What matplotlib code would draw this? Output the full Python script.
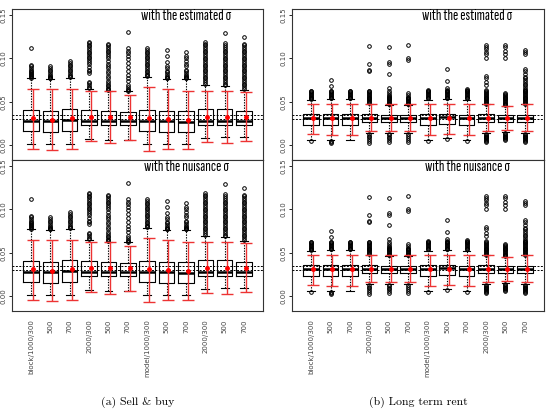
import matplotlib
matplotlib.use("Agg")
import matplotlib.pyplot as plt
from matplotlib import font_manager

# ---------------- data ----------------
tick_labels = ["block/1000/300", "500", "700", "2000/300", "500", "700",
               "model/1000/300", "500", "700", "2000/300", "500", "700"]
row_titles = ["with the estimated \u03c3", "with the nuisance \u03c3"]
captions = ["(a) Sell & buy", "(b) Long term rent"]
ref_lines = [0.0346, 0.0308]

# Sell & buy
sell_q1 = [0.0165, 0.0158, 0.0165, 0.0235, 0.0230, 0.0230, 0.0160, 0.0158, 0.0158, 0.0230, 0.0230, 0.0230]
sell_med = [0.0277, 0.0280, 0.0290, 0.0275, 0.0280, 0.0280, 0.0280, 0.0280, 0.0270, 0.0280, 0.0280, 0.0280]
sell_q3 = [0.0410, 0.0400, 0.0420, 0.0410, 0.0400, 0.0385, 0.0410, 0.0400, 0.0400, 0.0420, 0.0420, 0.0400]
sell_wlo = [0.0020, 0.0010, 0.0020, 0.0070, 0.0065, 0.0065, 0.0010, 0.0010, 0.0010, 0.0085, 0.0100, 0.0096]
sell_whi = [0.0770, 0.0760, 0.0780, 0.0650, 0.0630, 0.0620, 0.0790, 0.0760, 0.0760, 0.0700, 0.0680, 0.0640]
sell_mean = [0.0310, 0.0296, 0.0310, 0.0330, 0.0330, 0.0320, 0.0310, 0.0300, 0.0296, 0.0330, 0.0330, 0.0330]
sell_lo = [-0.0046, -0.0050, -0.0040, 0.0046, 0.0030, 0.0060, -0.0065, -0.0046, -0.0046, 0.0040, 0.0030, 0.0046]
sell_hi = [0.0650, 0.0650, 0.0650, 0.0620, 0.0630, 0.0580, 0.0670, 0.0650, 0.0630, 0.0630, 0.0630, 0.0610]
sell_out = [
    [0.078, 0.079, 0.080, 0.081, 0.082, 0.083, 0.084, 0.085, 0.087, 0.089, 0.091, 0.093, 0.112],
    [0.077, 0.078, 0.079, 0.080, 0.081, 0.083, 0.085, 0.087, 0.089, 0.091],
    [0.079, 0.080, 0.081, 0.083, 0.085, 0.087, 0.089, 0.091, 0.093, 0.095, 0.097],
    [0.066, 0.067, 0.069, 0.072, 0.073, 0.083, 0.085, 0.087, 0.090, 0.094, 0.096, 0.098, 0.100,
     0.102, 0.104, 0.106, 0.108, 0.110, 0.112, 0.114, 0.116, 0.118, 0.119],
    [0.064, 0.065, 0.066, 0.068, 0.070, 0.072, 0.074, 0.077, 0.080, 0.083, 0.086, 0.089, 0.091,
     0.094, 0.097, 0.100, 0.103, 0.105, 0.107, 0.109, 0.111, 0.113, 0.115, 0.117],
    [0.063, 0.064, 0.065, 0.067, 0.070, 0.074, 0.077, 0.081, 0.085, 0.090, 0.095, 0.099, 0.103,
     0.106, 0.109, 0.112, 0.131],
    [0.080, 0.081, 0.082, 0.084, 0.086, 0.088, 0.090, 0.092, 0.094, 0.096, 0.098, 0.100, 0.102,
     0.104, 0.106, 0.108, 0.110, 0.112],
    [0.077, 0.078, 0.079, 0.080, 0.082, 0.084, 0.086, 0.089, 0.091, 0.096, 0.103, 0.110],
    [0.077, 0.078, 0.079, 0.080, 0.081, 0.083, 0.085, 0.087, 0.091, 0.094, 0.097, 0.100, 0.103, 0.107],
    [0.071, 0.073, 0.075, 0.077, 0.079, 0.081, 0.083, 0.085, 0.087, 0.089, 0.091, 0.093, 0.095,
     0.097, 0.099, 0.101, 0.103, 0.105, 0.107, 0.109, 0.111, 0.113, 0.115, 0.117, 0.119],
    [0.069, 0.071, 0.073, 0.075, 0.077, 0.079, 0.081, 0.083, 0.085, 0.087, 0.089, 0.091, 0.093,
     0.095, 0.097, 0.099, 0.101, 0.103, 0.105, 0.107, 0.109, 0.111, 0.113, 0.115, 0.118, 0.129],
    [0.065, 0.067, 0.069, 0.071, 0.073, 0.075, 0.077, 0.079, 0.081, 0.083, 0.085, 0.087, 0.089,
     0.091, 0.093, 0.095, 0.097, 0.099, 0.101, 0.103, 0.105, 0.107, 0.109, 0.111, 0.113, 0.115,
     0.117, 0.125],
]

# Long term rent
rent_q1 = [0.0238, 0.0238, 0.0238, 0.0270, 0.0270, 0.0270, 0.0238, 0.0245, 0.0238, 0.0270, 0.0270, 0.0270]
rent_med = [0.0310, 0.0310, 0.0310, 0.0315, 0.0310, 0.0310, 0.0310, 0.0327, 0.0310, 0.0310, 0.0310, 0.0310]
rent_q3 = [0.0358, 0.0358, 0.0365, 0.0358, 0.0354, 0.0354, 0.0358, 0.0365, 0.0354, 0.0358, 0.0354, 0.0354]
rent_wlo = [0.0065, 0.0060, 0.0065, 0.0145, 0.0145, 0.0145, 0.0065, 0.0080, 0.0065, 0.0145, 0.0155, 0.0145]
rent_whi = [0.0520, 0.0530, 0.0530, 0.0480, 0.0460, 0.0460, 0.0520, 0.0530, 0.0520, 0.0470, 0.0450, 0.0470]
rent_mean = [0.0310, 0.0310, 0.0310, 0.0310, 0.0310, 0.0310, 0.0310, 0.0310, 0.0310, 0.0310, 0.0310, 0.0310]
rent_lo = [0.0127, 0.0120, 0.0120, 0.0160, 0.0160, 0.0160, 0.0120, 0.0130, 0.0120, 0.0160, 0.0180, 0.0160]
rent_hi = [0.0470, 0.0480, 0.0480, 0.0480, 0.0470, 0.0470, 0.0470, 0.0480, 0.0470, 0.0480, 0.0450, 0.0470]
rent_out = [
    [0.053, 0.054, 0.055, 0.056, 0.057, 0.058, 0.059, 0.060, 0.061, 0.062, 0.063, 0.005],
    [0.054, 0.055, 0.056, 0.057, 0.058, 0.059, 0.060, 0.061, 0.062, 0.063, 0.068, 0.075,
     0.003, 0.004, 0.005],
    [0.054, 0.055, 0.056, 0.057, 0.058, 0.059, 0.060, 0.061, 0.062, 0.063],
    [0.049, 0.050, 0.051, 0.052, 0.053, 0.054, 0.055, 0.056, 0.057, 0.058, 0.059, 0.060, 0.061,
     0.062, 0.063, 0.085, 0.087, 0.094, 0.114,
     0.003, 0.005, 0.007, 0.009, 0.011, 0.013],
    [0.047, 0.048, 0.049, 0.050, 0.051, 0.052, 0.053, 0.054, 0.055, 0.056, 0.057, 0.058, 0.060,
     0.062, 0.066, 0.082, 0.094, 0.096, 0.113,
     0.004, 0.006, 0.008, 0.010, 0.012, 0.013],
    [0.047, 0.048, 0.049, 0.050, 0.051, 0.052, 0.053, 0.054, 0.055, 0.056, 0.058, 0.060,
     0.098, 0.101, 0.115,
     0.004, 0.006, 0.008, 0.011, 0.013],
    [0.054, 0.055, 0.056, 0.057, 0.058, 0.059, 0.060, 0.061, 0.062, 0.063, 0.064, 0.005],
    [0.054, 0.055, 0.056, 0.057, 0.058, 0.059, 0.060, 0.061, 0.062, 0.063, 0.064, 0.066,
     0.074, 0.088, 0.007],
    [0.054, 0.055, 0.056, 0.057, 0.058, 0.059, 0.060, 0.061, 0.062, 0.063, 0.064, 0.065, 0.005],
    [0.048, 0.049, 0.050, 0.051, 0.052, 0.053, 0.054, 0.055, 0.056, 0.057, 0.058, 0.059, 0.060,
     0.061, 0.062, 0.064, 0.069, 0.073, 0.077, 0.080, 0.101, 0.105, 0.108, 0.111, 0.113, 0.116,
     0.004, 0.005, 0.006, 0.007, 0.008, 0.009, 0.010, 0.011, 0.012, 0.013],
    [0.046, 0.047, 0.048, 0.049, 0.050, 0.051, 0.052, 0.053, 0.054, 0.055, 0.056, 0.057, 0.058,
     0.059, 0.060, 0.101, 0.105, 0.109, 0.113, 0.116,
     0.006, 0.007, 0.008, 0.009, 0.010, 0.011, 0.012, 0.013, 0.014],
    [0.048, 0.049, 0.050, 0.051, 0.052, 0.053, 0.054, 0.055, 0.056, 0.057, 0.058, 0.059, 0.060,
     0.061, 0.062, 0.063, 0.064, 0.065, 0.067, 0.069, 0.071, 0.073, 0.075, 0.077, 0.079, 0.082,
     0.085, 0.088, 0.105, 0.108, 0.110,
     0.004, 0.005, 0.006, 0.007, 0.008, 0.009, 0.010, 0.011, 0.012, 0.013],
]

panels = [
    (sell_q1, sell_med, sell_q3, sell_wlo, sell_whi, sell_out, sell_mean, sell_lo, sell_hi),
    (rent_q1, rent_med, rent_q3, rent_wlo, rent_whi, rent_out, rent_mean, rent_lo, rent_hi),
]

# ---------------- figure ----------------
W, H = 546, 412
fig = plt.figure(figsize=(W / 100, H / 100), dpi=100)

avail = {f.name for f in font_manager.fontManager.ttflist}
narrow = "Sofia Sans Extra Condensed" if "Sofia Sans Extra Condensed" in avail else "DejaVu Sans"

col_x = [(12, 251), (292, 252)]
row_y = [(9, 151), (160, 151)]

for ci, (x0, wpx) in enumerate(col_x):
    q1, med, q3, wlo, whi, outs, mean, lo, hi = panels[ci]
    for ri, (y0, hpx) in enumerate(row_y):
        ax = fig.add_axes([x0 / W, 1 - (y0 + hpx) / H, wpx / W, hpx / H])
        stats = []
        for k in range(len(tick_labels)):
            stats.append(dict(q1=q1[k], med=med[k], q3=q3[k], whislo=wlo[k], whishi=whi[k],
                              fliers=outs[k], label=tick_labels[k]))
        pos = list(range(1, len(tick_labels) + 1))
        ax.bxp(stats, positions=pos, widths=0.8, showfliers=True,
               boxprops=dict(color="black", linewidth=0.8),
               medianprops=dict(color="black", linewidth=1.8),
               whiskerprops=dict(color="black", linewidth=0.8, linestyle=(0, (1.2, 1.2))),
               capprops=dict(color="black", linewidth=0.8),
               capwidths=0.4,
               flierprops=dict(marker="o", markersize=2.6, markerfacecolor="none",
                               markeredgecolor="black", markeredgewidth=0.7))
        for yv in ref_lines:
            ax.axhline(yv, color="black", linewidth=0.7, linestyle=(0, (2, 1.5)), zorder=3)
        xs = [p + 0.1 for p in pos]
        yerr = [[m - l for m, l in zip(mean, lo)], [h - m for m, h in zip(mean, hi)]]
        ax.errorbar(xs, mean, yerr=yerr, fmt="o", color="red", ecolor=(0.93, 0.2, 0.2),
                    elinewidth=1.0, capsize=4, capthick=1.0, markersize=2.5, zorder=4)
        ax.set_xlim(0.02, 12.98)
        ax.set_ylim(-0.017, 0.157)
        ax.set_yticks([0.00, 0.05, 0.10, 0.15])
        ax.set_yticklabels(["0.00", "0.05", "0.10", "0.15"], rotation=90, va="center",
                           fontsize=5, color="#444444")
        ax.tick_params(axis="y", length=2.5, width=0.6, pad=1.5)
        if ri == 1:
            ax.set_xticks(pos)
            ax.set_xticklabels(tick_labels, rotation=90, fontsize=5, color="#444444", va="top")
            ax.tick_params(axis="x", length=0, pad=6)
        else:
            ax.set_xticks([])
        for sp in ax.spines.values():
            sp.set_linewidth(0.8)
            sp.set_color("#333333")
        ax.text(0.695, 0.955, row_titles[ri], transform=ax.transAxes, ha="center", va="center",
                fontsize=11.5, family=[narrow, "DejaVu Sans"])

for ci, (x0, wpx) in enumerate(col_x):
    fig.text((x0 + wpx / 2) / W, 1 - 402 / H, captions[ci], ha="center", va="center",
             fontsize=8.5, family=["cmr10", "DejaVu Serif"])

fig.savefig("out.png", dpi=100)
